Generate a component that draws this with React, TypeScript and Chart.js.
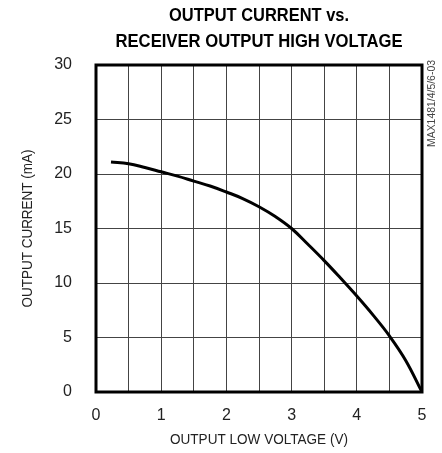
import React, { useEffect, useRef } from 'react';
import { Chart, registerables } from 'chart.js';

Chart.register(...registerables);

const TITLE_LINES = ['OUTPUT CURRENT vs.', 'RECEIVER OUTPUT HIGH VOLTAGE'];
const X_AXIS_TITLE = 'OUTPUT LOW VOLTAGE (V)';
const Y_AXIS_TITLE = 'OUTPUT CURRENT (mA)';
const SIDE_LABEL = 'MAX1481/4/5/6-03';

const VOLTAGE_V = [0.23, 0.5, 0.75, 1.0, 1.25, 1.5, 1.75, 2.0, 2.25, 2.5, 2.75, 3.0, 3.25, 3.5, 3.75, 4.0, 4.25, 4.5, 4.75, 5.0];
const CURRENT_MA = [21.1, 20.95, 20.6, 20.2, 19.8, 19.35, 18.9, 18.35, 17.75, 17.0, 16.1, 15.0, 13.55, 12.05, 10.45, 8.8, 7.05, 5.15, 2.9, 0.0];

const X_MIN = 0;
const X_MAX = 5;
const X_GRID_STEP = 0.5;
const Y_MIN = 0;
const Y_MAX = 30;
const Y_STEP = 5;

const TICK_FONT = "'Liberation Sans', Arial, sans-serif";

function fitText(ctx: CanvasRenderingContext2D, text: string, x: number, y: number, width: number, font: string, angle = 0) {
  ctx.save();
  ctx.font = font;
  const w = ctx.measureText(text).width;
  ctx.translate(x, y);
  if (angle) ctx.rotate(angle);
  ctx.scale(width / w, 1);
  ctx.textAlign = 'center';
  ctx.textBaseline = 'alphabetic';
  ctx.fillText(text, 0, 0);
  ctx.restore();
}

const decorPlugin = {
  id: 'decor',
  afterDatasetsDraw(chart: any) {
    const ctx: CanvasRenderingContext2D = chart.ctx;
    const a = chart.chartArea;
    ctx.save();
    ctx.strokeStyle = '#000';
    ctx.lineWidth = 3;
    ctx.strokeRect(a.left, a.top, a.right - a.left, a.bottom - a.top);
    ctx.restore();
  },
  afterDraw(chart: any) {
    const ctx: CanvasRenderingContext2D = chart.ctx;
    const a = chart.chartArea;
    const cx = (a.left + a.right) / 2;
    const cy = (a.top + a.bottom) / 2;
    ctx.save();
    ctx.fillStyle = '#000';
    fitText(ctx, TITLE_LINES[0], cx, 21, 180, "bold 19px 'Liberation Sans', sans-serif");
    fitText(ctx, TITLE_LINES[1], cx, 47, 287, "bold 19px 'Liberation Sans', sans-serif");
    ctx.fillStyle = '#222';
    fitText(ctx, X_AXIS_TITLE, cx, 444, 178, "15px 'Liberation Sans', sans-serif");
    fitText(ctx, Y_AXIS_TITLE, 31.5, cy, 158, "15px 'Liberation Sans', sans-serif", -Math.PI / 2);
    ctx.fillStyle = '#444';
    fitText(ctx, SIDE_LABEL, 435, 103.5, 87, "10px 'Liberation Sans', sans-serif", -Math.PI / 2);
    ctx.restore();
  },
};

export default function App() {
  const ref = useRef<HTMLCanvasElement | null>(null);
  useEffect(() => {
    if (!ref.current) return;
    const chart = new Chart(ref.current, {
      type: 'line',
      data: {
        datasets: [
          {
            data: VOLTAGE_V.map((v, i) => ({ x: v, y: CURRENT_MA[i] })),
            borderColor: '#000',
            borderWidth: 3,
            pointRadius: 0,
            fill: false,
            tension: 0.4,
          },
        ],
      },
      options: {
        responsive: false,
        animation: false,
        layout: { padding: { top: 65, right: 20, left: 0, bottom: 0 } },
        plugins: { legend: { display: false }, tooltip: { enabled: false }, title: { display: false } },
        scales: {
          x: {
            type: 'linear',
            min: X_MIN,
            max: X_MAX,
            afterFit: (s: any) => { s.height = 61; },
            ticks: {
              stepSize: X_GRID_STEP,
              autoSkip: false,
              maxRotation: 0,
              padding: 14,
              color: '#222',
              font: { family: TICK_FONT, size: 16 },
              callback: (v: any) => (Number.isInteger(Number(v)) ? String(v) : ''),
            },
            grid: { color: '#444', lineWidth: 1, drawTicks: false },
            border: { display: false },
          },
          y: {
            type: 'linear',
            min: Y_MIN,
            max: Y_MAX,
            afterFit: (s: any) => { s.width = 96; },
            ticks: {
              stepSize: Y_STEP,
              padding: 24,
              color: '#222',
              font: { family: TICK_FONT, size: 16 },
            },
            grid: { color: '#444', lineWidth: 1, drawTicks: false },
            border: { display: false },
          },
        },
      },
      plugins: [decorPlugin],
    });
    return () => chart.destroy();
  }, []);
  return (
    <div style={{ position: 'absolute', left: 0, top: 0, width: 442, height: 453, background: '#fff' }}>
      <canvas ref={ref} width={442} height={453} />
    </div>
  );
}
